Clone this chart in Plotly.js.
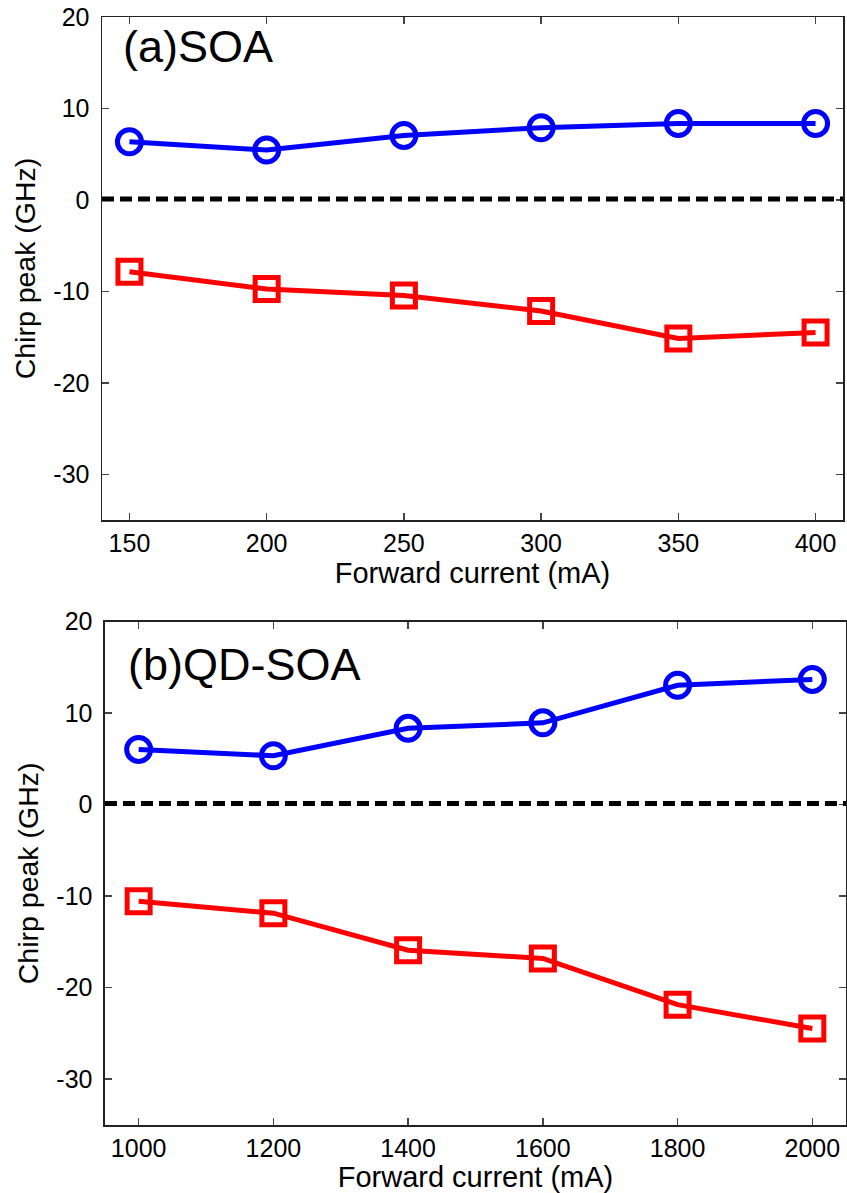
<!DOCTYPE html>
<html>
<head>
<meta charset="utf-8">
<script src="https://cdn.plot.ly/plotly-3.0.1.min.js"></script>
<style>html,body{margin:0;padding:0;background:#fff;}#chart{width:847px;height:1193px;}</style>
</head>
<body>
<div id="chart"></div>
<script>
// Panel (a) SOA
const currentSOA = [150, 200, 250, 300, 350, 400];
const chirpPosSOA = [6.35, 5.45, 7.05, 7.9, 8.35, 8.35];
const chirpNegSOA = [-7.85, -9.75, -10.45, -12.15, -15.15, -14.5];
// Panel (b) QD-SOA
const currentQD = [1000, 1200, 1400, 1600, 1800, 2000];
const chirpPosQD = [6.05, 5.35, 8.35, 8.95, 13.05, 13.7];
const chirpNegQD = [-10.55, -11.85, -15.9, -16.8, -21.85, -24.45];
const zeroLevel = [0.1, 0.15];
const yTickVals = [-30, -20, -10, 0, 10, 20];
const yTickText = ['-30', '-20', '-10', '0', '10', '20'];
const panelLabels = ['(a)SOA', '(b)QD-SOA'];
const xTitle = 'Forward current (mA)';
const yTitle = 'Chirp peak (GHz)';

const FONT = 'Arial, "Liberation Sans", Helvetica, sans-serif';
const BLUE = '#0000ff', RED = '#ff0000';

function lineTrace(x, y, color, symbol, size, xa, ya) {
  return {
    x: x, y: y, xaxis: xa, yaxis: ya, type: 'scatter', mode: 'lines+markers',
    line: {color: color, width: 5},
    marker: {symbol: symbol, size: size, color: color, line: {color: color, width: 5}},
    showlegend: false, hoverinfo: 'x+y'
  };
}

const data = [
  lineTrace(currentSOA, chirpPosSOA, BLUE, 'circle-open', 24, 'x', 'y'),
  lineTrace(currentSOA, chirpNegSOA, RED, 'square-open', 23, 'x', 'y'),
  lineTrace(currentQD, chirpPosQD, BLUE, 'circle-open', 24, 'x2', 'y2'),
  lineTrace(currentQD, chirpNegQD, RED, 'square-open', 23, 'x2', 'y2')
];

function xaxis(range, dtick, domain, anchor) {
  return {
    range: range, dtick: dtick, tick0: 0, domain: domain, anchor: anchor,
    showgrid: false, zeroline: false,
    showline: true, linecolor: '#222', linewidth: 1.5, mirror: 'ticks',
    ticks: 'inside', ticklen: 7, tickwidth: 1.5, tickcolor: '#444',
    tickfont: {family: FONT, size: 25, color: '#000'},
    title: {text: xTitle, font: {family: FONT, size: 29, color: '#000'}, standoff: 4}
  };
}
function yaxis(domain, anchor) {
  return {
    range: [-35, 20], tickmode: 'array', tickvals: yTickVals, ticktext: yTickText,
    domain: domain, anchor: anchor,
    showgrid: false, zeroline: false,
    showline: true, linecolor: '#222', linewidth: 1.5, mirror: 'ticks',
    ticks: 'inside', ticklen: 7, tickwidth: 1.5, tickcolor: '#444',
    ticklabelstandoff: 6,
    tickfont: {family: FONT, size: 25, color: '#000'},
    title: {text: yTitle, font: {family: FONT, size: 28.5, color: '#000'}, standoff: 9}
  };
}

const layout = {
  width: 847, height: 1193,
  margin: {l: 102, r: 1, t: 17, b: 68},
  paper_bgcolor: '#fff', plot_bgcolor: '#fff',
  font: {family: FONT, color: '#000'},
  xaxis: xaxis([140, 410], 50, [0, 0.996], 'y'),
  yaxis: yaxis([0.546, 1], 'x'),
  xaxis2: xaxis([950, 2050], 200, [0.004, 1], 'y2'),
  yaxis2: yaxis([0, 0.4542], 'x2'),
  shapes: [
    {type: 'line', xref: 'x domain', yref: 'y', x0: 0, x1: 1, y0: zeroLevel[0], y1: zeroLevel[0],
     line: {color: '#000', width: 5, dash: '12px,6px'}},
    {type: 'line', xref: 'x2 domain', yref: 'y2', x0: 0, x1: 1, y0: zeroLevel[1], y1: zeroLevel[1],
     line: {color: '#000', width: 5, dash: '12px,6px'}}
  ],
  annotations: [
    {text: panelLabels[0], xref: 'x domain', yref: 'y domain', x: 0.025, y: 0.941,
     xanchor: 'left', yanchor: 'middle', showarrow: false, font: {family: FONT, size: 45, color: '#000'}},
    {text: panelLabels[1], xref: 'x2 domain', yref: 'y2 domain', x: 0.028, y: 0.916,
     xanchor: 'left', yanchor: 'middle', showarrow: false, font: {family: FONT, size: 45, color: '#000'}}
  ]
};

Plotly.newPlot('chart', data, layout, {displayModeBar: false, staticPlot: true});
</script>
</body>
</html>
